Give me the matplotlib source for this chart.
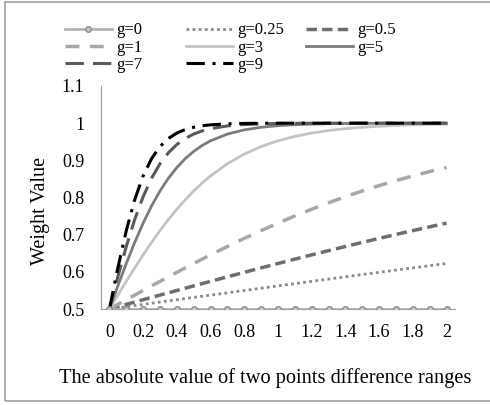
import matplotlib
matplotlib.use("Agg")
import matplotlib.pyplot as plt
from matplotlib.patches import Rectangle

plt.rcParams['font.family'] = ['Liberation Serif', 'DejaVu Serif']

# x positions (finer near the start where curves are steep)
x_values = [0, 0.05, 0.1, 0.15, 0.2, 0.25, 0.3, 0.35, 0.4, 0.45, 0.5, 0.55, 0.6,
            0.7, 0.8, 0.9, 1.0, 1.1, 1.2, 1.3, 1.4, 1.5, 1.6, 1.7, 1.8, 1.9, 2.0]
x_g0 = [0, 0.1, 0.2, 0.3, 0.4, 0.5, 0.6, 0.7, 0.8, 0.9, 1.0,
        1.1, 1.2, 1.3, 1.4, 1.5, 1.6, 1.7, 1.8, 1.9, 2.0]

g0 = [0.5] * 21
g025 = [0.5, 0.5031, 0.5062, 0.5094, 0.5125, 0.5156, 0.5187, 0.5219, 0.5250, 0.5281,
        0.5312, 0.5343, 0.5374, 0.5436, 0.5498, 0.5560, 0.5622, 0.5683, 0.5744, 0.5805,
        0.5866, 0.5927, 0.5987, 0.6047, 0.6106, 0.6166, 0.6225]
g05 = [0.5, 0.5062, 0.5125, 0.5187, 0.5250, 0.5312, 0.5374, 0.5436, 0.5498, 0.5560,
       0.5622, 0.5683, 0.5744, 0.5866, 0.5987, 0.6106, 0.6225, 0.6341, 0.6457, 0.6570,
       0.6682, 0.6792, 0.6900, 0.7006, 0.7109, 0.7211, 0.7311]
g1 = [0.5, 0.5125, 0.5250, 0.5374, 0.5498, 0.5622, 0.5744, 0.5866, 0.5987, 0.6106,
      0.6225, 0.6341, 0.6457, 0.6682, 0.6900, 0.7109, 0.7311, 0.7503, 0.7685, 0.7858,
      0.8022, 0.8176, 0.8320, 0.8455, 0.8581, 0.8699, 0.8808]
g3 = [0.5, 0.5374, 0.5744, 0.6106, 0.6457, 0.6792, 0.7109, 0.7408, 0.7685, 0.7941,
      0.8176, 0.8389, 0.8581, 0.8909, 0.9168, 0.9370, 0.9526, 0.9644, 0.9734, 0.9802,
      0.9852, 0.9890, 0.9918, 0.9939, 0.9955, 0.9967, 0.9975]
g5 = [0.5, 0.5622, 0.6225, 0.6792, 0.7311, 0.7773, 0.8176, 0.8520, 0.8808, 0.9047,
      0.9241, 0.9399, 0.9526, 0.9707, 0.9820, 0.9890, 0.9933, 0.9959, 0.9975, 0.9985,
      0.9991, 0.9994, 0.9997, 0.9998, 0.9999, 0.9999, 1.0]
g7 = [0.5, 0.5866, 0.6682, 0.7408, 0.8022, 0.8520, 0.8909, 0.9206, 0.9427, 0.9589,
      0.9707, 0.9792, 0.9852, 0.9926, 0.9963, 0.9982, 0.9991, 0.9995, 0.9998, 0.9999,
      0.9999, 1.0, 1.0, 1.0, 1.0, 1.0, 1.0]
g9 = [0.5, 0.6106, 0.7109, 0.7941, 0.8581, 0.9047, 0.9370, 0.9589, 0.9734, 0.9829,
      0.9890, 0.9930, 0.9955, 0.9982, 0.9993, 0.9997, 0.9999, 1.0, 1.0, 1.0,
      1.0, 1.0, 1.0, 1.0, 1.0, 1.0, 1.0]

x_ticks = [0, 0.2, 0.4, 0.6, 0.8, 1, 1.2, 1.4, 1.6, 1.8, 2]
x_tick_labels = ['0', '0.2', '0.4', '0.6', '0.8', '1', '1.2', '1.4', '1.6', '1.8', '2']
y_ticks = [0.5, 0.6, 0.7, 0.8, 0.9, 1.0, 1.1]
y_tick_labels = ['0.5', '0.6', '0.7', '0.8', '0.9', '1', '1.1']

fig = plt.figure(figsize=(4.9, 4.05), dpi=100)
ax = fig.add_axes([101/490, 1 - 309/405, (455-101)/490, (309-86)/405])

l0, = ax.plot(x_g0, g0, color='#b4b4b4', lw=2, marker='o', ms=4,
              mfc='#c8c8c8', mec='#8c8c8c', mew=1, label='g=0', zorder=3)
l1, = ax.plot(x_values, g025, color='#8a8a8a', lw=2, ls=(0, (1, 1.2)), label='g=0.25')
l2, = ax.plot(x_values, g05, color='#6e6e6e', lw=2.5, ls=(0, (3, 1.5)), label='g=0.5')
l3, = ax.plot(x_values, g1, color='#a8a8a8', lw=2.5, ls=(0, (4, 3)), label='g=1')
l4, = ax.plot(x_values, g3, color='#c4c4c4', lw=2, ls='-', label='g=3')
l5, = ax.plot(x_values, g5, color='#7c7c7c', lw=2, ls='-', label='g=5')
l6, = ax.plot(x_values, g7, color='#5a5a5a', lw=2.2, ls=(0, (6, 3)), label='g=7')
l7, = ax.plot(x_values, g9, color='#000000', lw=2.2, ls=(0, (6, 2.5, 1, 2.5)), label='g=9')

ax.set_xlim(-0.05, 2.05)
ax.set_ylim(0.5, 1.1)
ax.set_xticks(x_ticks)
ax.set_xticklabels(x_tick_labels)
ax.set_yticks(y_ticks)
ax.set_yticklabels(y_tick_labels)
ax.tick_params(length=0, labelsize=13)
ax.tick_params(axis='y', pad=12)
ax.tick_params(axis='x', pad=11)
for s in ['top', 'right']:
    ax.spines[s].set_visible(False)
ax.spines['left'].set_color('#a0a0a0')
ax.spines['bottom'].set_color('#a0a0a0')

fig.text(40/490, 1 - 211/405, 'Weight Value', fontsize=14.5, rotation=90,
         ha='center', va='center')
fig.text(265/490, 1 - 378/405, 'The absolute value of two points difference ranges',
         fontsize=14.7, ha='center', va='center')

columns = [[l0, l3, l6], [l1, l4, l7], [l2, l5]]
col_x = [65, 186, 306]
for hs, cx in zip(columns, col_x):
    lg = fig.legend(handles=hs, labels=[h.get_label() for h in hs], ncol=1,
                    loc='upper left', bbox_to_anchor=(cx/490, 1 - 22.5/405),
                    frameon=False, fontsize=12, handlelength=2.8, handletextpad=0.3,
                    labelspacing=0.08, borderpad=0.0, borderaxespad=0.0)

fig.patches.append(Rectangle((5/490, 1 - 401/405), 1.2, (401-2)/405,
                             transform=fig.transFigure, fill=False,
                             edgecolor='#a0a0a0', lw=1.2))

fig.savefig('out.png', dpi=100)
